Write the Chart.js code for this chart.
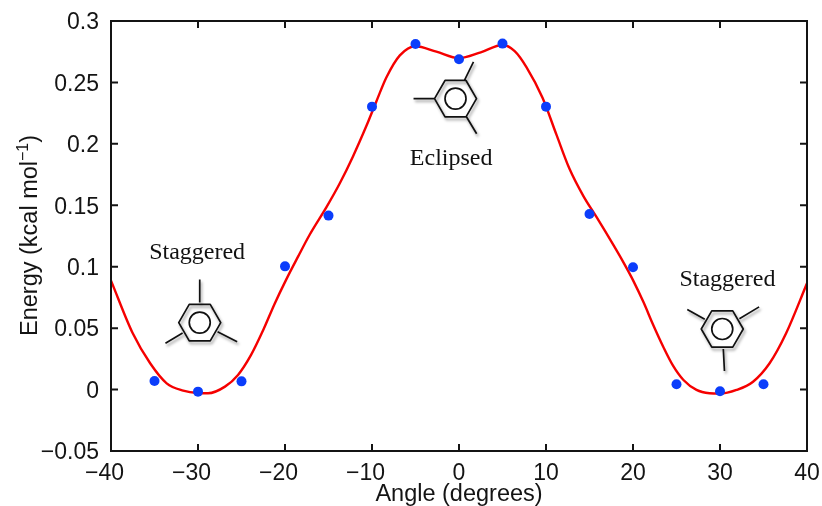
<!DOCTYPE html>
<html>
<head>
<meta charset="utf-8">
<style>
    html, body { margin: 0; padding: 0; background: #fff; }
    canvas { display: block; }
</style>
<script src="https://cdn.jsdelivr.net/npm/chart.js@4"></script>
</head>
<body>
<canvas id="energyChart" width="822" height="506"></canvas>
<script>
// measured points
const pointAngles = [-35, -30, -25, -20, -15, -10, -5, 0, 5, 10, 15, 20, 25, 30, 35];
const pointEnergies = [0.007, -0.0017, 0.0067, 0.1003, 0.1416, 0.2303, 0.2813, 0.2688, 0.2816, 0.2303, 0.1429, 0.0995, 0.0043, -0.0014, 0.0043];

// fitted curve
const curveAngles = [-40, -37.5, -35.5, -33.6, -31.7, -30, -28.85, -26.9, -25.4, -23.9, -22.5, -21.2, -19.85, -18.5, -17.15, -15.2, -13.7, -12.2, -10.65, -9.5, -8.35, -6.8, -5, -2.6, 0, 2.5, 5, 6.4, 7.75, 9.6, 11.2, 12.7, 14.3, 15.8, 17.74, 18.9, 20.04, 21.2, 22.3, 23.5, 24.6, 25.8, 27.3, 28.8, 30, 31.9, 33.8, 35.7, 37.6, 40];
const curveEnergies = [0.0887, 0.0458, 0.0214, 0.0051, -0.0008, -0.0028, -0.003, 0.0024, 0.0119, 0.0282, 0.0485, 0.0697, 0.0897, 0.1082, 0.1262, 0.1489, 0.1679, 0.1896, 0.2145, 0.2345, 0.254, 0.272, 0.2795, 0.275, 0.2697, 0.2745, 0.2805, 0.2755, 0.2625, 0.2375, 0.2075, 0.1797, 0.1575, 0.1405, 0.1177, 0.1035, 0.0885, 0.0712, 0.053, 0.0345, 0.0195, 0.0078, -0.0003, -0.003, -0.0033, -0.0003, 0.0064, 0.0214, 0.0458, 0.0865];

const xTicks = [-40, -30, -20, -10, 0, 10, 20, 30, 40];
const xTickLabels = ['−40', '−30', '−20', '−10', '0', '10', '20', '30', '40'];
const yTicks = [-0.05, 0, 0.05, 0.1, 0.15, 0.2, 0.25, 0.3];
const yTickLabels = ['−0.05', '0', '0.05', '0.1', '0.15', '0.2', '0.25', '0.3'];

// molecule sketches and their captions
const moleculeAngles = [-29.8, -0.4, 30.26];
const moleculeEnergies = [0.0545, 0.2368, 0.0493];
const moleculeSpokes = [
    [[-90, 43], [149, 40], [27, 42]],
    [[180, 42], [-64, 41], [59, 41]],
    [[209, 40], [-31, 43], [87, 42]]
];
const captionTexts = ['Staggered', 'Eclipsed', 'Staggered'];
const captionAngles = [-30.1, -0.9, 30.85];
const captionEnergies = [0.106, 0.1831, 0.0839];

const AXIS_FONT = '"Liberation Sans", Arial, sans-serif';
const SERIF_FONT = '"Liberation Serif", "Times New Roman", serif';
const INK = '#141414';

const framePlugin = {
    id: 'frame',
    afterDraw: (chart) => {
        const ctx = chart.ctx;
        const a = chart.chartArea;
        const sx = chart.scales.x;
        const sy = chart.scales.y;

        // box and inward ticks on all sides
        ctx.save();
        ctx.strokeStyle = INK;
        ctx.lineWidth = 2;
        ctx.strokeRect(a.left, a.top, a.right - a.left, a.bottom - a.top);
        ctx.beginPath();
        xTicks.forEach(v => {
            const p = sx.getPixelForValue(v);
            ctx.moveTo(p, a.bottom); ctx.lineTo(p, a.bottom - 7);
            ctx.moveTo(p, a.top); ctx.lineTo(p, a.top + 7);
        });
        yTicks.forEach(v => {
            const p = sy.getPixelForValue(v);
            ctx.moveTo(a.left, p); ctx.lineTo(a.left + 7, p);
            ctx.moveTo(a.right, p); ctx.lineTo(a.right - 7, p);
        });
        ctx.stroke();
        ctx.restore();

        // y title, canvas title has no superscript
        ctx.save();
        ctx.translate(37, 336);
        ctx.rotate(-Math.PI / 2);
        ctx.fillStyle = INK;
        ctx.textAlign = 'left';
        ctx.textBaseline = 'alphabetic';
        ctx.font = '23.5px ' + AXIS_FONT;
        const head = 'Energy (kcal mol';
        ctx.fillText(head, 0, 0);
        let w = ctx.measureText(head).width;
        ctx.font = '16px ' + AXIS_FONT;
        ctx.fillText('−1', w, -9);
        w += ctx.measureText('−1').width;
        ctx.font = '23.5px ' + AXIS_FONT;
        ctx.fillText(')', w, 0);
        ctx.restore();

        moleculeAngles.forEach((angle, i) => {
            drawMolecule(ctx, sx.getPixelForValue(angle), sy.getPixelForValue(moleculeEnergies[i]), moleculeSpokes[i]);
        });

        ctx.save();
        ctx.fillStyle = '#111';
        ctx.font = '24px ' + SERIF_FONT;
        ctx.textAlign = 'center';
        ctx.textBaseline = 'alphabetic';
        captionTexts.forEach((t, i) => {
            ctx.fillText(t, sx.getPixelForValue(captionAngles[i]), sy.getPixelForValue(captionEnergies[i]));
        });
        ctx.restore();
    }
};

function drawMolecule(ctx, cx, cy, spokes) {
    ctx.save();
    ctx.strokeStyle = '#111';
    ctx.lineWidth = 1.7;
    ctx.lineJoin = 'round';
    ctx.shadowColor = 'rgba(0,0,0,0.4)';
    ctx.shadowBlur = 3;
    ctx.shadowOffsetX = 1.5;
    ctx.shadowOffsetY = 2.5;
    ctx.beginPath();
    for (let k = 0; k < 6; k++) {
        const t = k * Math.PI / 3;
        const px = cx + 21 * Math.cos(t);
        const py = cy + 21 * Math.sin(t);
        if (k === 0) ctx.moveTo(px, py); else ctx.lineTo(px, py);
    }
    ctx.closePath();
    spokes.forEach(s => {
        const t = s[0] * Math.PI / 180;
        ctx.moveTo(cx + 20 * Math.cos(t), cy + 20 * Math.sin(t));
        ctx.lineTo(cx + s[1] * Math.cos(t), cy + s[1] * Math.sin(t));
    });
    ctx.stroke();
    ctx.shadowColor = 'transparent';
    ctx.beginPath();
    ctx.arc(cx, cy, 10.5, 0, Math.PI * 2);
    ctx.stroke();
    ctx.restore();
}

new Chart(document.getElementById('energyChart').getContext('2d'), {
    type: 'scatter',
    data: {
        datasets: [{
            label: 'Points',
            data: pointAngles.map((x, i) => ({ x: x, y: pointEnergies[i] })),
            backgroundColor: '#0b3dfb',
            borderWidth: 0,
            pointRadius: 5,
            showLine: false
        }, {
            label: 'Fit',
            data: curveAngles.map((x, i) => ({ x: x, y: curveEnergies[i] })),
            borderColor: '#f50000',
            borderWidth: 2.4,
            pointRadius: 0,
            showLine: true,
            cubicInterpolationMode: 'monotone'
        }]
    },
    options: {
        responsive: false,
        animation: false,
        layout: { padding: { top: 21, right: 15, left: 0, bottom: 0 } },
        plugins: { legend: { display: false }, tooltip: { enabled: false } },
        scales: {
            x: {
                type: 'linear',
                min: -40,
                max: 40,
                afterBuildTicks: (axis) => { axis.ticks = xTicks.map(v => ({ value: v })); },
                afterFit: (axis) => { axis.height = 55; },
                grid: { display: false },
                border: { display: false },
                ticks: {
                    color: INK,
                    font: { family: AXIS_FONT, size: 23 },
                    padding: 1,
                    maxRotation: 0,
                    autoSkip: false,
                    // figure space keeps the digits centred, minus hangs out left
                    callback: (v) => {
                        const s = xTickLabels[xTicks.indexOf(v)];
                        return v < 0 ? s + '\u2007' : s;
                    }
                },
                title: {
                    display: true,
                    text: 'Angle (degrees)',
                    color: INK,
                    font: { family: AXIS_FONT, size: 23.5, lineHeight: 1 },
                    padding: 0
                }
            },
            y: {
                min: -0.05,
                max: 0.3,
                afterBuildTicks: (axis) => { axis.ticks = yTicks.map(v => ({ value: v })); },
                afterFit: (axis) => { axis.width = 111; },
                grid: { display: false },
                border: { display: false },
                ticks: {
                    color: INK,
                    font: { family: AXIS_FONT, size: 23 },
                    padding: 4,
                    labelOffset: 2,
                    autoSkip: false,
                    callback: (v) => yTickLabels[yTicks.findIndex(t => Math.abs(t - v) < 1e-6)]
                }
            }
        }
    },
    plugins: [framePlugin]
});
</script>
</body>
</html>
